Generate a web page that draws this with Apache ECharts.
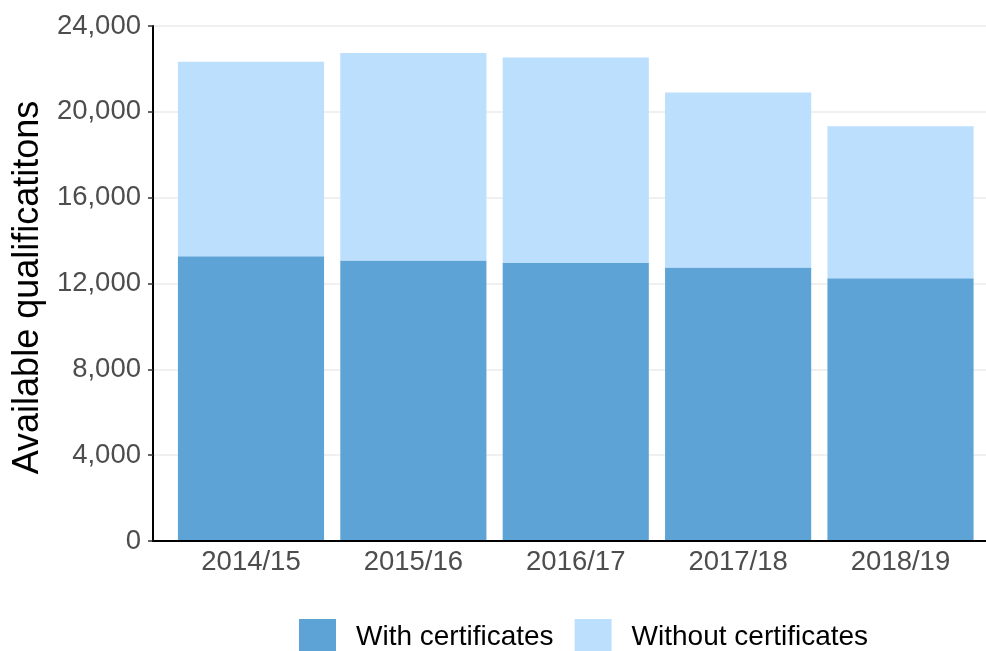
<!DOCTYPE html>
<html>
<head>
<meta charset="utf-8">
<script src="https://cdn.jsdelivr.net/npm/echarts@6/dist/echarts.min.js"></script>
<style>
html,body{margin:0;padding:0;background:#fff;}
#chart{width:986px;height:651px;}
</style>
</head>
<body>
<div id="chart"></div>
<script>
const categories = ['2014/15', '2015/16', '2016/17', '2017/18', '2018/19'];
const withCertificates = [13270, 13070, 12960, 12740, 12250];
const withoutCertificates = [9060, 9670, 9570, 8160, 7080];
const yTicks = [0, 4000, 8000, 12000, 16000, 20000, 24000];
const seriesNames = ['With certificates', 'Without certificates'];
const yTitle = 'Available qualificatitons';

const FONT = "'Liberation Sans', Arial, sans-serif";
const chart = echarts.init(document.getElementById('chart'), null, {renderer: 'canvas'});
const yMin = yTicks[0], yMax = yTicks[yTicks.length - 1], yStep = yTicks[1] - yTicks[0];

chart.setOption({
  animation: false,
  backgroundColor: '#ffffff',
  textStyle: {fontFamily: FONT},
  grid: [
    {left: 153, right: 0, top: 26, bottom: 110},
    {left: 169.8, right: 4.3, top: 26, bottom: 110}
  ],
  xAxis: [
    {gridIndex: 0, type: 'value', min: 0, max: 1, z: 10,
     axisLine: {show: true, lineStyle: {color: '#000', width: 2}},
     axisTick: {show: false}, axisLabel: {show: false}, splitLine: {show: false}},
    {gridIndex: 1, type: 'category', data: categories,
     axisLine: {show: false}, axisTick: {show: false},
     axisLabel: {color: '#4D4D4D', fontSize: 27.5, fontFamily: FONT, margin: 7},
     splitLine: {show: false}}
  ],
  yAxis: [
    {gridIndex: 0, type: 'value', min: yMin, max: yMax, interval: yStep,
     name: yTitle, nameLocation: 'middle', nameGap: 96,
     nameTextStyle: {color: '#000', fontSize: 36, fontFamily: FONT, padding: [0, 8, 0, 0]},
     axisLine: {show: true, lineStyle: {color: '#000', width: 2}},
     axisTick: {show: true, length: 5, lineStyle: {color: '#333', width: 1.5}},
     axisLabel: {color: '#4D4D4D', fontSize: 27.5, fontFamily: FONT, margin: 12,
       formatter: v => v.toLocaleString('en-US')},
     splitLine: {show: true, lineStyle: {color: '#EBEBEB', width: 1.5}}},
    {gridIndex: 1, type: 'value', min: yMin, max: yMax, interval: yStep, show: false,
     splitLine: {show: false}}
  ],
  legend: {
    left: 299, top: 619, padding: 0, itemWidth: 37, itemHeight: 37, itemGap: 21,
    icon: 'rect',
    data: seriesNames,
    textStyle: {color: '#000', fontSize: 28, fontFamily: FONT, padding: [0, 0, 0, 15]}
  },
  series: [
    {name: seriesNames[0], type: 'bar', stack: 'total', xAxisIndex: 1, yAxisIndex: 1,
     data: withCertificates, barCategoryGap: '10%', itemStyle: {color: '#5DA3D6'}},
    {name: seriesNames[1], type: 'bar', stack: 'total', xAxisIndex: 1, yAxisIndex: 1,
     data: withoutCertificates, barCategoryGap: '10%', itemStyle: {color: '#BBDFFD'}}
  ]
});
</script>
</body>
</html>
